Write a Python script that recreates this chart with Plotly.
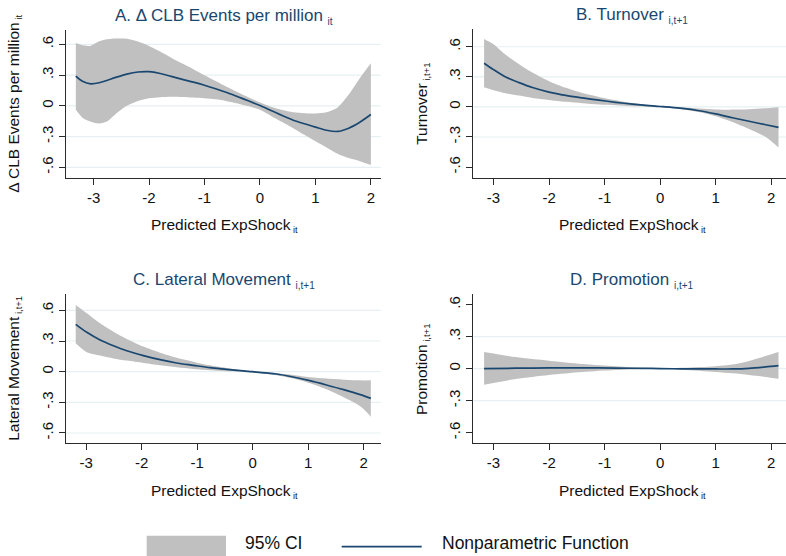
import plotly.graph_objects as go

# ---- data: nonparametric fit and 95% confidence band per outcome ----
A_X = [-3.32, -3.2, -3.05, -2.9, -2.75, -2.6, -2.4, -2.2, -2.0, -1.8, -1.6, -1.4, -1.2, -1.0,
       -0.8, -0.6, -0.4, -0.2, 0.0, 0.2, 0.4, 0.6, 0.8, 1.0, 1.2, 1.4, 1.6, 1.8, 2.0]
A_FIT = [0.29, 0.24, 0.215, 0.225, 0.25, 0.278, 0.31, 0.33, 0.333, 0.316, 0.287, 0.258, 0.231, 0.201,
         0.167, 0.13, 0.089, 0.047, 0.003, -0.045, -0.095, -0.14, -0.175, -0.207, -0.238, -0.25, -0.218, -0.16, -0.085]
A_HI = [0.612, 0.59, 0.587, 0.63, 0.65, 0.656, 0.655, 0.628, 0.585, 0.531, 0.47, 0.412, 0.358, 0.299,
        0.242, 0.186, 0.133, 0.082, 0.033, -0.008, -0.04, -0.062, -0.072, -0.074, -0.062, -0.015, 0.11, 0.27, 0.415]
A_LO = [-0.039, -0.115, -0.155, -0.172, -0.15, -0.08, 0.0, 0.047, 0.073, 0.084, 0.088, 0.086, 0.081, 0.073,
        0.064, 0.046, 0.024, -0.005, -0.039, -0.098, -0.157, -0.218, -0.283, -0.346, -0.406, -0.467, -0.51, -0.54, -0.577]

B_X = [-3.17, -3.0, -2.78, -2.54, -2.3, -2.0, -1.7, -1.4, -1.1, -0.8, -0.5, -0.2, 0.0, 0.2,
       0.4, 0.7, 1.0, 1.3, 1.6, 1.9, 2.13]
B_FIT = [0.436, 0.372, 0.298, 0.242, 0.193, 0.148, 0.115, 0.09, 0.067, 0.046, 0.028, 0.012, 0.004, -0.004,
         -0.015, -0.038, -0.07, -0.108, -0.143, -0.178, -0.204]
B_HI = [0.678, 0.625, 0.519, 0.426, 0.343, 0.256, 0.19, 0.138, 0.099, 0.066, 0.039, 0.018, 0.008, 0.002,
        -0.005, -0.015, -0.025, -0.027, -0.023, -0.013, -0.003]
B_LO = [0.196, 0.166, 0.135, 0.113, 0.09, 0.07, 0.051, 0.037, 0.024, 0.016, 0.007, 0.002, -0.003, -0.012,
        -0.025, -0.052, -0.094, -0.15, -0.22, -0.3, -0.405]

C_X = [-3.19, -2.99, -2.75, -2.51, -2.27, -1.97, -1.67, -1.37, -1.07, -0.77, -0.47, -0.17, 0.0,
       0.43, 0.73, 1.03, 1.33, 1.64, 1.94, 2.13]
C_FIT = [0.463, 0.385, 0.31, 0.254, 0.205, 0.157, 0.117, 0.085, 0.062, 0.039, 0.023, 0.007, 0.0,
         -0.023, -0.052, -0.088, -0.13, -0.176, -0.225, -0.261]
C_HI = [0.652, 0.571, 0.473, 0.391, 0.32, 0.245, 0.186, 0.137, 0.098, 0.062, 0.036, 0.013, 0.003,
        -0.016, -0.033, -0.055, -0.068, -0.078, -0.085, -0.085]
C_LO = [0.277, 0.189, 0.157, 0.13, 0.108, 0.085, 0.062, 0.042, 0.026, 0.013, 0.003, -0.003, -0.007,
        -0.036, -0.068, -0.114, -0.173, -0.251, -0.339, -0.44]

D_X = [-3.17, -2.6, -2.0, -1.4, -0.8, -0.2, 0.0, 0.4, 1.0, 1.3, 1.6, 1.9, 2.13]
D_FIT = [0.0, 0.004, 0.007, 0.008, 0.005, 0.002, 0.0, -0.002, -0.003, -0.003, 0.003, 0.016, 0.028]
D_HI = [0.156, 0.109, 0.075, 0.044, 0.022, 0.006, 0.003, 0.008, 0.022, 0.038, 0.072, 0.119, 0.156]
D_LO = [-0.15, -0.097, -0.059, -0.031, -0.013, -0.003, -0.003, -0.01, -0.031, -0.044, -0.059, -0.078, -0.094]

X_TICKS = [-3, -2, -1, 0, 1, 2]
X_TICKTEXT = ["-3", "-2", "-1", "0", "1", "2"]
Y_TICKS = [-0.6, -0.3, 0, 0.3, 0.6]
Y_TICKTEXT = ["-.6", "-.3", "0", ".3", ".6"]


def sub(txt, size):
    """Small lowered index text, as used in the outcome labels."""
    return f"<sub><span style='font-size:{size}px'>{txt}</span></sub>"


PANEL_TITLES = [
    "A. \u0394 CLB Events per million " + sub("it", 10),
    "B. Turnover " + sub("i,t+1", 10),
    "C. Lateral Movement " + sub("i,t+1", 10),
    "D. Promotion " + sub("i,t+1", 10),
]
Y_TITLES = [
    "\u0394 CLB Events per million" + sub(" it", 9.5),
    "Turnover" + sub(" i,t+1", 9.5),
    "Lateral Movement" + sub(" i,t+1", 9.5),
    "Promotion" + sub(" i,t+1", 9.5),
]
X_TITLE = "Predicted ExpShock" + sub(" it", 9)
LEGEND_LABELS = ["95% CI", "Nonparametric Function"]

# ---- style ----
FONT = "Arial, Liberation Sans, Helvetica, sans-serif"
NAVY = "#1a476f"
BAND = "#c0c0c0"
GRID = "#e6eff1"
AXIS = "#2b2b2b"
W, H = 786, 556

# panel geometry (pixels): x0, x1, y_top, y_bottom, x-range, y-range, grid lines
panels = [
    dict(x=A_X, fit=A_FIT, hi=A_HI, lo=A_LO, px=(66, 380.7), py=(30, 177.7),
         xr=[-3.497, 2.177], yr=[-0.701, 0.74], grid=[-0.6, -0.3, 0, 0.3, 0.6], tx=224),
    dict(x=B_X, fit=B_FIT, hi=B_HI, lo=B_LO, px=(473.3, 786), py=(29.3, 177.7),
         xr=[-3.364, 2.265], yr=[-0.706, 0.774], grid=[-0.3, 0, 0.3, 0.6], tx=632),
    dict(x=C_X, fit=C_FIT, hi=C_HI, lo=C_LO, px=(66, 380.7), py=(294.3, 443.3),
         xr=[-3.365, 2.308], yr=[-0.701, 0.757], grid=[-0.6, -0.3, 0, 0.3, 0.6], tx=224),
    dict(x=D_X, fit=D_FIT, hi=D_HI, lo=D_LO, px=(473.3, 786), py=(294.3, 443.3),
         xr=[-3.364, 2.265], yr=[-0.70, 0.697], grid=[-0.3, 0, 0.3], tx=632),
]

fig = go.Figure()
layout = dict(width=W, height=H, margin=dict(l=0, r=0, t=0, b=0),
              paper_bgcolor="white", plot_bgcolor="white", showlegend=False,
              font=dict(family=FONT, color="#111111"))
annotations = []
shapes = []

for i, p in enumerate(panels):
    n = "" if i == 0 else str(i + 1)
    xa, ya = "x" + n, "y" + n
    # confidence band
    fig.add_trace(go.Scatter(x=p["x"], y=p["lo"], mode="lines", line=dict(width=0, shape="spline", smoothing=0.8),
                             xaxis=xa, yaxis=ya, hoverinfo="skip"))
    fig.add_trace(go.Scatter(x=p["x"], y=p["hi"], mode="lines", line=dict(width=0, shape="spline", smoothing=0.8),
                             fill="tonexty", fillcolor=BAND, xaxis=xa, yaxis=ya, hoverinfo="skip"))
    # fitted curve
    fig.add_trace(go.Scatter(x=p["x"], y=p["fit"], mode="lines",
                             line=dict(color=NAVY, width=1.7, shape="spline", smoothing=0.8),
                             xaxis=xa, yaxis=ya))

    x0, x1 = p["px"]
    yt, yb = p["py"]
    dom_x = [x0 / W, min(x1 / W, 1.0)]
    dom_y = [1 - yb / H, 1 - yt / H]
    layout["xaxis" + n] = dict(domain=dom_x, range=p["xr"], anchor=ya,
                               tickvals=X_TICKS, ticktext=X_TICKTEXT, ticks="outside", ticklen=6,
                               tickwidth=1.3, tickcolor=AXIS, showline=True, linecolor=AXIS, linewidth=1.3,
                               showgrid=False, zeroline=False, tickfont=dict(size=15, color="#111111"),
                               fixedrange=True)
    layout["yaxis" + n] = dict(domain=dom_y, range=p["yr"], anchor=xa,
                               tickvals=Y_TICKS, ticktext=Y_TICKTEXT, ticks="outside", ticklen=6,
                               tickwidth=1.3, tickcolor=AXIS, showline=True, linecolor=AXIS, linewidth=1.3,
                               showgrid=False, zeroline=False, tickangle=-90,
                               tickfont=dict(size=15, color="#111111"), fixedrange=True)
    for g in p["grid"]:
        shapes.append(dict(type="line", xref=xa + " domain", yref=ya, x0=0, x1=1, y0=g, y1=g,
                           line=dict(color=GRID, width=1.2), layer="below"))

    cx = p["tx"] / W
    # panel title
    annotations.append(dict(text=PANEL_TITLES[i], xref="paper", yref="paper", x=cx, y=1 - (yt - 14) / H,
                            xanchor="center", yanchor="middle", showarrow=False,
                            font=dict(size=17, color=NAVY, family=FONT)))
    # x-axis title
    annotations.append(dict(text=X_TITLE, xref="paper", yref="paper", x=cx, y=1 - (yb + 48) / H,
                            xanchor="center", yanchor="middle", showarrow=False,
                            font=dict(size=15.5, color="#111111", family=FONT)))
    # y-axis title
    annotations.append(dict(text=Y_TITLES[i], xref="paper", yref="paper", x=(x0 - 51) / W,
                            y=1 - (yt + yb) / 2 / H, xanchor="center", yanchor="middle",
                            textangle=-90, showarrow=False,
                            font=dict(size=15.5, color="#111111", family=FONT)))

# ---- legend drawn at the bottom ----
shapes.append(dict(type="rect", xref="paper", yref="paper", x0=146.7 / W, x1=226 / W,
                   y0=1 - 560 / H, y1=1 - 535.7 / H, fillcolor=BAND, line=dict(width=0)))
shapes.append(dict(type="line", xref="paper", yref="paper", x0=341.7 / W, x1=421.7 / W,
                   y0=1 - 546.7 / H, y1=1 - 546.7 / H, line=dict(color=NAVY, width=1.7)))
annotations.append(dict(text=LEGEND_LABELS[0], xref="paper", yref="paper", x=243 / W, y=1 - 543 / H,
                        xanchor="left", yanchor="middle", showarrow=False,
                        font=dict(size=17.5, color="#111111", family=FONT)))
annotations.append(dict(text=LEGEND_LABELS[1], xref="paper", yref="paper", x=440 / W, y=1 - 543 / H,
                        xanchor="left", yanchor="middle", showarrow=False,
                        font=dict(size=17.5, color="#111111", family=FONT)))

layout["annotations"] = annotations
layout["shapes"] = shapes
fig.update_layout(**layout)
fig.write_html("out.html")
